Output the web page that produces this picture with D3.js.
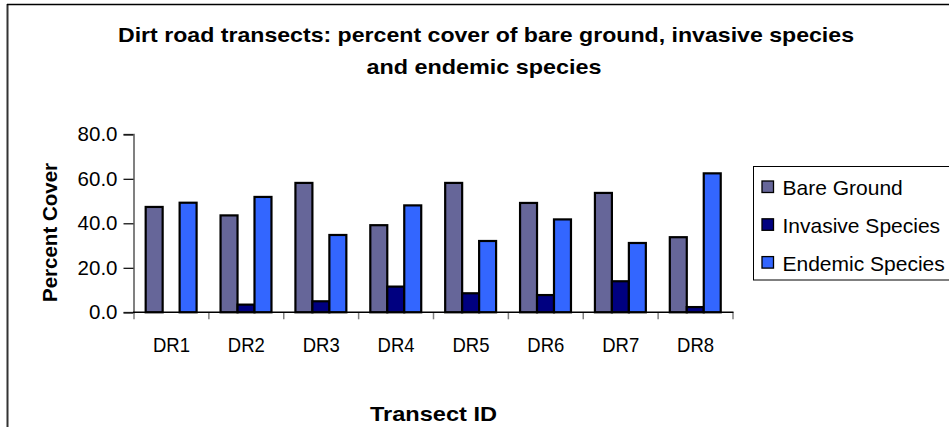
<!DOCTYPE html>
<html>
<head>
<meta charset="utf-8">
<script src="https://cdn.jsdelivr.net/npm/d3@7"></script>
<style>
  html, body { margin: 0; padding: 0; background: #fff; }
  svg { display: block; font-family: "Liberation Sans", Arial, sans-serif; }
</style>
</head>
<body>
<svg id="chart" width="949" height="427"></svg>
<script>
// Transects along the dirt road and the three cover classes recorded on each
const categories = ["DR1", "DR2", "DR3", "DR4", "DR5", "DR6", "DR7", "DR8"];
const seriesNames = ["Bare Ground", "Invasive Species", "Endemic Species"];
const bareGround = [47.8, 44.0, 58.6, 39.6, 58.6, 49.6, 54.1, 34.2];
const invasiveSpecies = [0.0, 3.9, 5.4, 12.0, 9.0, 8.2, 14.4, 2.8];
const endemicSpecies = [49.7, 52.3, 35.2, 48.5, 32.5, 42.2, 31.6, 62.9];
const yTicks = [0, 20, 40, 60, 80];
const seriesColors = ["#666699", "#000080", "#3366FF"];

const seriesValues = [bareGround, invasiveSpecies, endemicSpecies];
const rows = categories.map((c, i) => ({
  category: c,
  values: seriesNames.map((s, k) => ({ series: s, value: seriesValues[k][i] }))
}));

const svg = d3.select("#chart");

// Chart frame (open on the right and bottom)
svg.append("line").attr("x1", 7.5).attr("x2", 7.5).attr("y1", 4).attr("y2", 427)
  .attr("stroke", "#333").attr("stroke-width", 2);
svg.append("line").attr("x1", 7).attr("x2", 949).attr("y1", 4.5).attr("y2", 4.5)
  .attr("stroke", "#000").attr("stroke-width", 1.3);

// Title
const title = svg.append("g").attr("font-weight", "bold").attr("font-size", 21)
  .attr("text-anchor", "middle").attr("fill", "#000");
title.append("text").attr("x", 486).attr("y", 42)
  .attr("textLength", 736).attr("lengthAdjust", "spacingAndGlyphs")
  .text("Dirt road transects: percent cover of bare ground, invasive species");
title.append("text").attr("x", 484).attr("y", 74)
  .attr("textLength", 235).attr("lengthAdjust", "spacingAndGlyphs")
  .text("and endemic species");

// Scales
const x = d3.scaleBand().domain(categories).range([134, 733]).padding(0);
const xInner = d3.scaleBand().domain(seriesNames)
  .range([x.bandwidth() * 0.156, x.bandwidth() * 0.836]).padding(0);
const y = d3.scaleLinear().domain([0, 80]).range([312.3, 134.3]);

// Y axis
const yAxis = svg.append("g").attr("transform", "translate(133.5,0)")
  .call(d3.axisLeft(y).tickValues(yTicks).tickFormat(d3.format(".1f")).tickSize(10).tickPadding(6));
yAxis.select(".domain").attr("stroke", "#808080").attr("stroke-width", 2);
yAxis.selectAll(".tick line").attr("stroke", "#000").attr("stroke-width", 1.2);
yAxis.selectAll(".tick text").attr("font-size", 20.5).attr("fill", "#000")
  .attr("font-family", "'Liberation Sans', Arial, sans-serif");

// Bars
const groups = svg.append("g").selectAll("g").data(rows).join("g")
  .attr("transform", d => `translate(${x(d.category)},0)`);
groups.selectAll("rect").data(d => d.values.filter(v => v.value > 0)).join("rect")
  .attr("x", d => xInner(d.series))
  .attr("width", xInner.bandwidth())
  .attr("y", d => y(d.value) + 1)
  .attr("height", d => y(0) - y(d.value) - 1)
  .attr("fill", d => seriesColors[seriesNames.indexOf(d.series)])
  .attr("stroke", "#000").attr("stroke-width", 2.2);

// X axis: baseline, boundary ticks and centred category labels
const xAxis = svg.append("g").attr("transform", `translate(0,${y(0)})`)
  .call(d3.axisBottom(x).tickSize(0).tickPadding(25));
xAxis.select(".domain").remove();
xAxis.selectAll(".tick text").attr("font-size", 21).attr("fill", "#000")
  .attr("textLength", 37).attr("lengthAdjust", "spacingAndGlyphs")
  .attr("font-family", "'Liberation Sans', Arial, sans-serif");
const bounds = categories.map(c => x(c)).concat([x.range()[1]]);
svg.append("g").selectAll("line").data(bounds).join("line")
  .attr("x1", d => d).attr("x2", d => d)
  .attr("y1", y(0)).attr("y2", y(0) + 7)
  .attr("stroke", "#808080").attr("stroke-width", 1.5);
svg.append("line").attr("x1", 133).attr("x2", x.range()[1] + 0.5)
  .attr("y1", y(0)).attr("y2", y(0)).attr("stroke", "#000").attr("stroke-width", 1.5);

// Axis titles
svg.append("text").attr("x", 433.5).attr("y", 421)
  .attr("text-anchor", "middle").attr("font-weight", "bold").attr("font-size", 21)
  .attr("textLength", 127).attr("lengthAdjust", "spacingAndGlyphs")
  .text("Transect ID");
svg.append("text").attr("transform", "translate(57,232.5) rotate(-90)")
  .attr("text-anchor", "middle").attr("font-weight", "bold").attr("font-size", 20.5)
  .text("Percent Cover");

// Legend
const legend = svg.append("g");
legend.append("rect").attr("x", 753.5).attr("y", 166.5).attr("width", 220).attr("height", 113.5)
  .attr("fill", "#fff").attr("stroke", "#000").attr("stroke-width", 1);
const items = legend.selectAll("g.item").data(seriesNames).join("g").attr("class", "item")
  .attr("transform", (d, i) => `translate(0,${187 + i * 37.8})`);
items.append("rect").attr("x", 762).attr("y", -6).attr("width", 11.5).attr("height", 11.5)
  .attr("fill", (d, i) => seriesColors[i]).attr("stroke", "#000").attr("stroke-width", 1.3);
items.append("text").attr("x", 782.5).attr("y", 8).attr("font-size", 21).attr("fill", "#000")
  .text(d => d);
</script>
</body>
</html>
